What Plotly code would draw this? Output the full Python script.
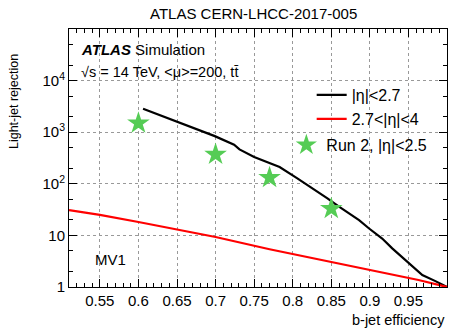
import plotly.graph_objects as go

# Data
eff_black = [0.606, 0.63, 0.66, 0.699, 0.724, 0.731, 0.750, 0.783, 0.805, 0.826, 0.845, 0.860,
             0.886, 0.899, 0.916, 0.929, 0.951, 0.968, 0.985, 1.0]
rej_black = [2840, 2070, 1393, 839, 572, 464, 330, 211, 130, 81, 52, 36,
             19.7, 13.6, 8.7, 5.6, 2.87, 1.7, 1.3, 1.0]
eff_red = [0.51, 0.55, 0.6, 0.65, 0.7, 0.77, 0.847, 0.886, 0.899, 0.963, 1.0]
rej_red = [31, 25, 18.2, 13.2, 9.3, 5.4, 3.1, 2.36, 2.15, 1.37, 1.0]
eff_run2 = [0.6, 0.7, 0.77, 0.85]
rej_run2 = [1500, 370, 132, 33]

ytickvals = [1, 10, 100, 1000, 10000]
yticktext = ["1", "10", "10<sup>2</sup>", "10<sup>3</sup>", "10<sup>4</sup>"]
xtickvals = [0.55, 0.6, 0.65, 0.7, 0.75, 0.8, 0.85, 0.9, 0.95, 1.0]
xticktext = ["0.55", "0.6", "0.65", "0.7", "0.75", "0.8", "0.85", "0.9", "0.95", "1"]

FONT = "Liberation Sans, Arial, sans-serif"

fig = go.Figure()
fig.add_trace(go.Scatter(x=eff_black, y=rej_black, mode="lines", name="|η|<2.7",
                         line=dict(color="black", width=2.2), legend="legend"))
fig.add_trace(go.Scatter(x=eff_red, y=rej_red, mode="lines", name="2.7<|η|<4",
                         line=dict(color="#ff0000", width=2.2), legend="legend2"))
fig.add_trace(go.Scatter(x=eff_run2, y=rej_run2, mode="markers", name="Run 2, |η|<2.5",
                         marker=dict(symbol="star", size=17, color="#55cc55", line=dict(width=0)),
                         legend="legend3"))

axis_common = dict(showline=True, linecolor="black", linewidth=1, mirror="allticks",
                   ticks="inside", tickcolor="black", ticklen=8, automargin=False,
                   showgrid=True, gridcolor="#999999", griddash="dot", gridwidth=1,
                   zeroline=False, tickfont=dict(family=FONT, size=15, color="black"))

fig.update_xaxes(range=[0.51, 1.0], tickvals=xtickvals, ticktext=xticktext,
                 minor=dict(dtick=0.01, tick0=0.5, ticks="inside", ticklen=4, tickcolor="black", showgrid=False),
                 **axis_common)
fig.update_yaxes(type="log", range=[0, 5], tickvals=ytickvals, ticktext=yticktext,
                 minor=dict(ticks="inside", ticklen=4, tickcolor="black", showgrid=False),
                 **axis_common)

leg_font = dict(family=FONT, size=16, color="black")
leg_common = dict(xanchor="left", yanchor="middle", bgcolor="rgba(0,0,0,0)", font=leg_font,
                  borderwidth=0)

fig.update_layout(
    width=449, height=331,
    margin=dict(l=69, r=2, t=29, b=44, autoexpand=False),
    paper_bgcolor="white", plot_bgcolor="white",
    showlegend=True,
    legend=dict(x=0.642, y=0.744, **leg_common),
    legend2=dict(x=0.642, y=0.651, **leg_common),
    legend3=dict(x=0.575, y=0.550, **leg_common),
    annotations=[
        dict(text="ATLAS CERN-LHCC-2017-005", xref="paper", yref="paper", x=0.488, y=1.062,
             showarrow=False, xanchor="center", yanchor="middle",
             font=dict(family=FONT, size=15, color="black")),
        dict(text="<b><i>ATLAS</i></b> Simulation", xref="paper", yref="paper", x=0.026, y=0.919,
             showarrow=False, xanchor="left", yanchor="middle",
             font=dict(family=FONT, size=15, color="black")),
        dict(text="√s = 14 TeV, <μ>=200, tt̄", xref="paper", yref="paper", x=0.026, y=0.834,
             showarrow=False, xanchor="left", yanchor="middle",
             font=dict(family=FONT, size=14.5, color="black")),
        dict(text="MV1", xref="paper", yref="paper", x=0.063, y=0.105,
             showarrow=False, xanchor="left", yanchor="middle",
             font=dict(family=FONT, size=15, color="black")),
        dict(text="Light-jet rejection", xref="paper", yref="paper", x=-0.1455, y=0.717,
             textangle=-90, showarrow=False, xanchor="center", yanchor="middle",
             font=dict(family=FONT, size=12.5, color="black")),
        dict(text="b-jet efficiency", xref="paper", yref="paper", x=1.0, y=-0.128,
             showarrow=False, xanchor="right", yanchor="middle",
             font=dict(family=FONT, size=14.5, color="black")),
    ],
)

fig.write_html("out.html")
